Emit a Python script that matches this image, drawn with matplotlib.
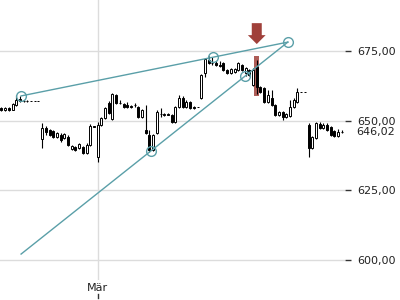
import numpy as np
import matplotlib.pyplot as plt
from matplotlib.patches import Polygon, Rectangle

# daily candles (open, high, low, close)
opens = [654.5, 653.9, 654.6, 654.0, 655.6, 657.8, 657.1, 657.2, 657.1, 657.1,
         657.1, 643.5, 647.4, 646.7, 646.3, 644.2, 645.0, 643.8, 644.2, 640.0,
         640.6, 640.2, 640.6, 638.4, 641.3, 648.0, 637.0, 648.5, 651.0, 656.4,
         650.6, 659.2, 656.4, 656.0, 655.6, 655.3, 655.5, 654.9, 651.3, 646.7,
         644.9, 639.5, 645.6, 652.5, 652.2, 652.3, 652.1, 649.6, 654.9, 658.2,
         654.9, 656.7, 655.0, 654.9, 658.2, 667.1, 671.8, 670.7, 670.8, 670.0,
         670.7, 668.2, 667.1, 667.5, 668.2, 670.0, 667.1, 668.2, 662.8, 669.3,
         662.1, 661.7, 656.7, 658.2, 655.6, 652.1, 653.1, 651.3, 651.7, 654.9,
         656.7, 660.3, 660.3, 648.5, 640.2, 643.8, 648.9, 647.4, 648.5, 647.7,
         646.3, 644.5, 646.0]
highs = [655.0, 655.0, 654.9, 656.5, 659.2, 659.0, 657.6, 657.6, 657.1, 657.1,
         657.1, 649.2, 648.1, 647.0, 646.7, 646.0, 645.6, 645.6, 644.9, 641.3,
         641.0, 642.0, 641.0, 642.0, 649.0, 648.1, 649.5, 651.5, 655.0, 657.1,
         660.0, 659.6, 657.4, 656.4, 656.7, 655.6, 656.3, 655.3, 654.2, 655.6,
         646.7, 645.3, 653.9, 654.6, 652.8, 652.9, 652.5, 655.3, 659.2, 658.9,
         657.4, 657.1, 655.3, 654.9, 666.8, 672.5, 673.2, 672.9, 671.5, 671.4,
         671.1, 668.5, 668.9, 669.0, 671.1, 670.4, 669.3, 668.6, 668.9, 671.8,
         662.5, 662.0, 661.0, 661.0, 655.9, 653.5, 653.5, 652.8, 657.4, 658.2,
         661.7, 660.3, 660.3, 649.2, 644.5, 649.6, 649.6, 649.2, 649.2, 648.1,
         646.7, 647.0, 646.7]
lows = [653.5, 653.6, 653.6, 653.8, 655.4, 656.8, 656.6, 656.7, 657.1, 657.1,
        657.1, 640.2, 644.9, 644.5, 643.8, 643.8, 642.4, 643.5, 640.9, 639.5,
        639.2, 639.9, 638.1, 638.1, 640.9, 647.8, 635.2, 648.1, 650.6, 652.5,
        650.3, 656.0, 655.9, 654.6, 654.5, 654.6, 654.9, 651.0, 651.0, 645.3,
        638.8, 639.2, 645.3, 651.3, 651.7, 651.9, 649.2, 649.2, 654.6, 654.6,
        654.6, 654.2, 654.2, 654.9, 657.8, 665.7, 670.4, 670.0, 669.8, 669.3,
        667.9, 666.8, 666.8, 667.2, 667.9, 667.9, 666.1, 666.1, 662.5, 659.5,
        659.9, 656.4, 656.4, 655.3, 651.7, 651.7, 650.3, 651.0, 651.3, 654.6,
        656.4, 660.3, 660.3, 637.0, 639.9, 643.5, 647.0, 647.0, 646.3, 644.5,
        644.2, 644.2, 645.6]
closes = [653.9, 654.6, 653.9, 656.0, 657.4, 657.1, 657.2, 657.1, 657.1, 657.1,
          657.1, 647.4, 646.0, 644.9, 644.2, 645.6, 643.1, 645.2, 641.3, 641.0,
          639.5, 641.7, 638.4, 641.3, 648.1, 647.9, 648.5, 651.0, 654.6, 652.8,
          659.6, 656.4, 656.5, 655.0, 654.9, 654.9, 655.6, 651.3, 653.9, 645.6,
          639.5, 644.9, 653.1, 652.6, 652.3, 652.2, 649.6, 654.9, 658.2, 654.9,
          656.7, 654.6, 654.6, 654.9, 666.4, 672.1, 670.7, 670.6, 670.0, 669.6,
          668.2, 667.1, 668.5, 668.6, 670.7, 668.2, 668.9, 666.4, 668.2, 662.1,
          660.3, 656.7, 659.2, 655.6, 652.1, 653.1, 651.3, 652.3, 654.9, 657.4,
          660.3, 660.3, 660.3, 640.2, 644.2, 649.2, 647.4, 648.5, 646.7, 644.9,
          644.5, 646.0, 646.02]

month_pos = [26]
month_labels = ["Mär"]
yticks = [600, 625, 650, 675]
last_price = 646.02

# trend lines (day index, price) and touch points
trend_upper = ([5.3, 77.4], [658.9, 678.2])
trend_lower = ([5.3, 77.4], [602.2, 678.2])
touch_x = [5.3, 57.2, 77.4, 40.4, 65.8]
touch_y = [658.9, 672.85, 678.2, 639.2, 666.0]
signal_day = 69

teal = "#5a9fa8"
red = "#a0403a"

fig = plt.figure(figsize=(4, 3), dpi=100)
ax = fig.add_axes([0, 20/300, 345/400, 280/300])

o = np.array(opens); h = np.array(highs); l = np.array(lows); c = np.array(closes)
x = np.arange(len(o))
up = c >= o

# highlight band behind signal candle
ax.add_patch(Rectangle((signal_day - 0.68, l[signal_day] - 0.5), 1.36,
                       h[signal_day] - l[signal_day] + 2.0,
                       facecolor=red, alpha=0.85, edgecolor="none", zorder=1))

ax.vlines(x, l, h, color="black", lw=0.8, zorder=2)
ax.bar(x[up], c[up] - o[up], bottom=o[up], width=0.55, facecolor="white",
       edgecolor="black", lw=0.7, zorder=3)
ax.bar(x[~up], o[~up] - c[~up], bottom=c[~up], width=0.55, facecolor="black",
       edgecolor="black", lw=0.7, zorder=3)

ax.plot(*trend_upper, color=teal, lw=1, zorder=4)
ax.plot(*trend_lower, color=teal, lw=1, zorder=4)
ax.plot(touch_x, touch_y, "o", ms=7, mfc="none", mec=teal, mew=1, zorder=5)

# down arrow above the signal candle
top = h[signal_day] + 13.2
ax.add_patch(Polygon([(signal_day - 1.35, top), (signal_day + 1.35, top),
                      (signal_day + 1.35, top - 4.3), (signal_day + 2.4, top - 4.3),
                      (signal_day, top - 7.5), (signal_day - 2.4, top - 4.3),
                      (signal_day - 1.35, top - 4.3)],
                     closed=True, facecolor=red, edgecolor="none", zorder=5))

ax.set_xlim(-0.4, 92.85)
ax.set_ylim(592.9, 693.3)

for s in ax.spines.values():
    s.set_visible(False)

ax.yaxis.tick_right()
ax.set_yticks(yticks)
ax.set_yticklabels([f"{v:.2f}".replace(".", ",") for v in yticks])
ax.tick_params(axis="y", length=4, width=1, color="#333333", pad=5,
               labelsize=8, labelcolor="#222222")
ax.set_xticks(month_pos)
ax.set_xticklabels(month_labels)
ax.tick_params(axis="x", length=0, pad=2.5, labelsize=8, labelcolor="#222222")
ax.grid(True, color="#dcdcdc", lw=1, zorder=0)
ax.set_axisbelow(True)

for p in month_pos:
    ax.plot([p, p], [-0.05, -0.064], color="#333333", lw=1,
            transform=ax.get_xaxis_transform(), clip_on=False)

ax.annotate(f"{last_price:.2f}".replace(".", ","), xy=(1, last_price),
            xycoords=("axes fraction", "data"), xytext=(8, 0),
            textcoords="offset points", va="center", ha="left",
            fontsize=8, color="#222222")

fig.savefig("out.png", dpi=100)
